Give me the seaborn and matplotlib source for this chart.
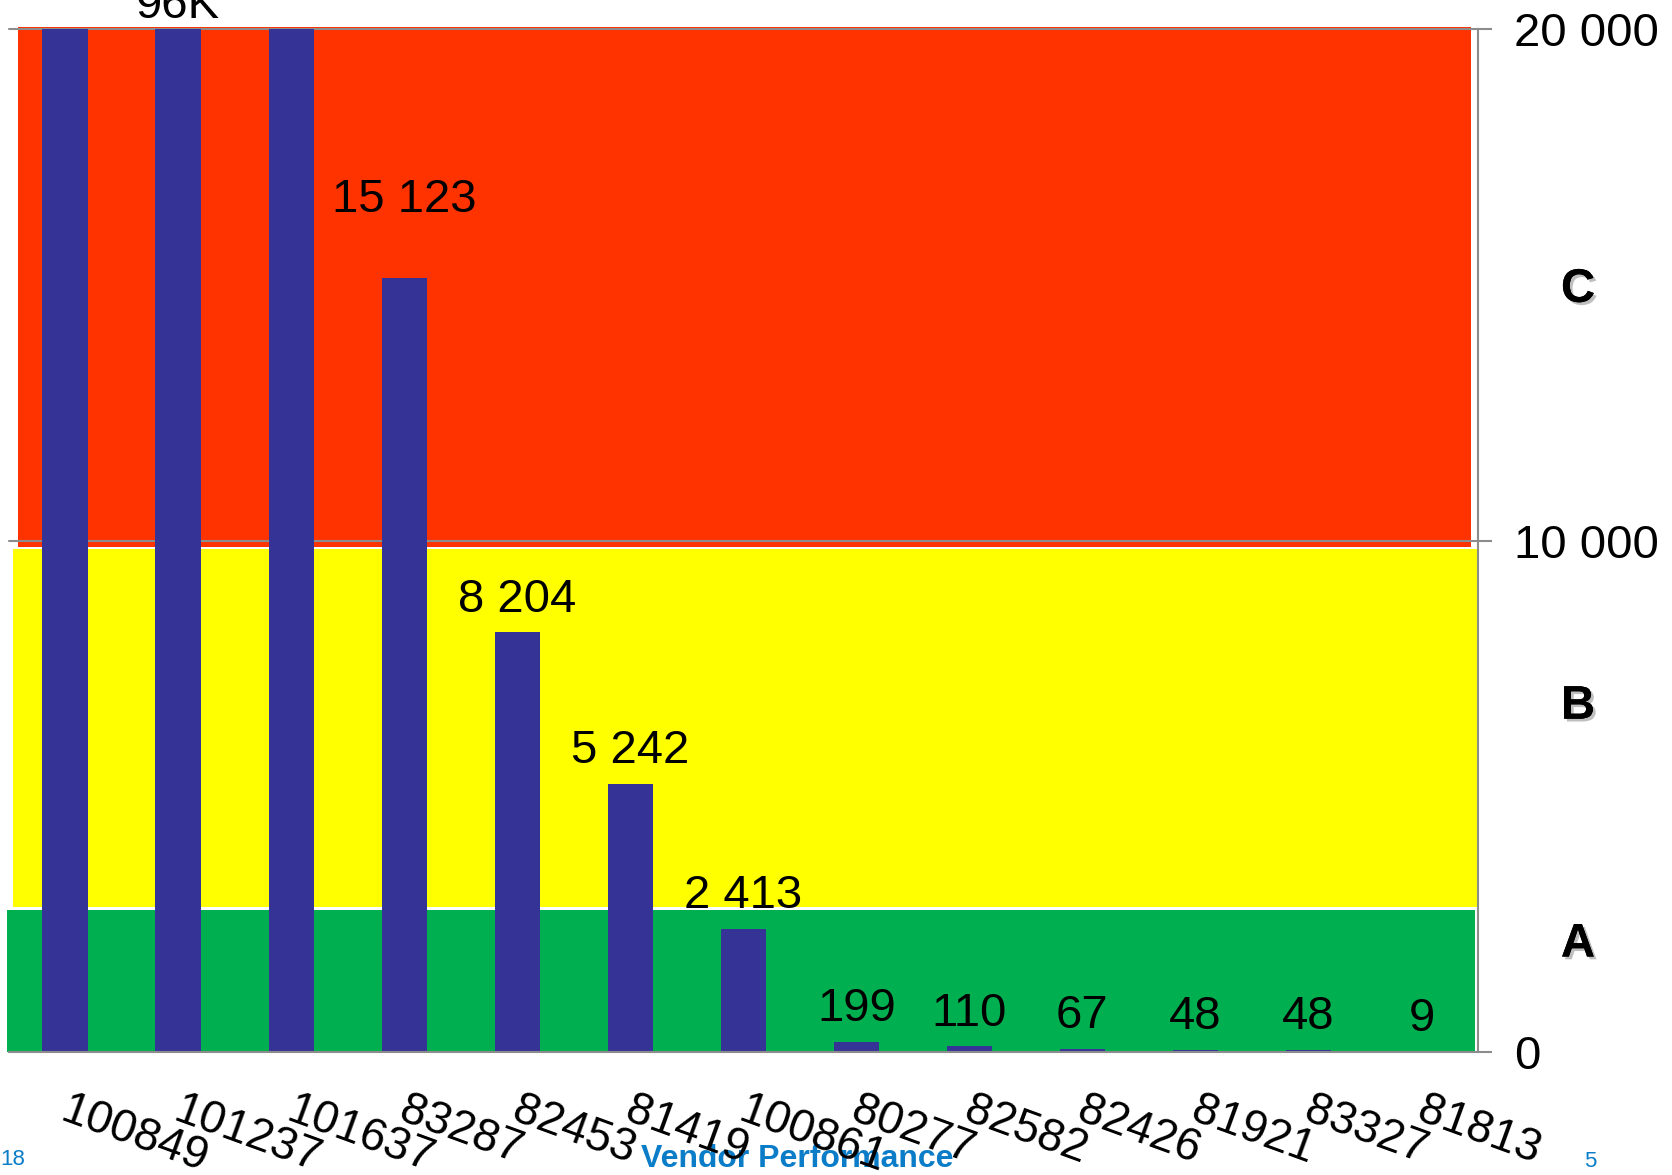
import numpy as np
import matplotlib
matplotlib.use("Agg")
import matplotlib.pyplot as plt
import matplotlib.patheffects as pe
import matplotlib.transforms as mtransforms
from matplotlib.patches import Rectangle
from matplotlib.ticker import FuncFormatter
import seaborn as sns

# vendors in Pareto order, spend per vendor
vendors = ["100849", "101237", "101637", "83287", "82453", "81419", "100861",
           "80277", "82582", "82426", "81921", "83327", "81813"]
spend = [120000, 96000, 40000, 15123, 8204, 5242, 2413, 199, 110, 67, 48, 48, 9]
bar_labels = ["", "96K", "", "15 123", "8 204", "5 242", "2 413",
              "199", "110", "67", "48", "48", "9"]

# ABC zones drawn behind the bars
zone_names = ["A", "B", "C"]
zone_low = [0, 2830, 9870]
zone_high = [2780, 9830, 20040]
zone_colors = ["#00B050", "#FFFF00", "#FF3300"]
zone_label_y = [2100, 6750, 14900]

y_ticks = [0, 10000, 20000]

sns.set_style("white")
plt.rcParams["font.family"] = ["Liberation Sans", "DejaVu Sans"]
plt.rcParams["text.color"] = "black"

grey = "#8c8c8c"
fig = plt.figure(figsize=(16.72, 11.75), dpi=100)
ax = fig.add_axes([0.0051, 0.1047, 0.8789, 0.8706])

sns.barplot(x=vendors, y=spend, color="#363396", saturation=1, width=0.4,
            errorbar=None, linewidth=0, zorder=3, ax=ax)

ax.set_xlim(-0.5, len(vendors) - 0.5)
ax.set_ylim(0, 20000)

# coloured zones (slightly uneven widths, like the hand drawn slide)
lefts = [-0.51, -0.46, -0.415]
rights = [12.47, 12.49, 12.44]
for lo, hi, c, l, r in zip(zone_low, zone_high, zone_colors, lefts, rights):
    ax.add_patch(Rectangle((l, lo), r - l, hi - lo, facecolor=c, lw=0,
                           zorder=1, clip_on=False))

for yv in y_ticks[1:]:
    ax.axhline(yv, color=grey, lw=1.5, zorder=2, clip_on=False)

# y axis on the right
ax.yaxis.tick_right()
ax.set_yticks(y_ticks)
ax.yaxis.set_major_formatter(FuncFormatter(lambda v, p: f"{int(v):,}".replace(",", " ")))
ax.tick_params(axis="y", direction="out", length=10, width=1.5, color=grey,
               labelcolor="black", labelsize=34, pad=16)

# x: ticks between categories, vendor ids rotated below each bar
ax.set_xticks(np.arange(-0.5, len(vendors), 1))
ax.set_xticklabels([])
ax.tick_params(axis="x", which="major", direction="out", length=11, width=1.5, color=grey)
ax.set_xlabel("")
ax.set_ylabel("")
for i, name in enumerate(vendors):
    ax.annotate(name, (i, 0), xytext=(-5, -49), textcoords="offset points",
                rotation=-20, rotation_mode="anchor", ha="left", va="baseline",
                fontsize=33, color="black", annotation_clip=False)

for s in ["left", "top"]:
    ax.spines[s].set_visible(False)
for s in ["right", "bottom"]:
    ax.spines[s].set_color(grey)
    ax.spines[s].set_linewidth(1.5)
    ax.spines[s].set_zorder(4)

# value labels above bars
offsets = {1: 8, 3: 48}
for i, (v, lab) in enumerate(zip(spend, bar_labels)):
    if not lab:
        continue
    ax.annotate(lab, (i, min(v, 20000)), xytext=(0, offsets.get(i, 15)),
                textcoords="offset points", ha="center", va="baseline",
                fontsize=34, color="black", zorder=5, annotation_clip=False)

trans = mtransforms.blended_transform_factory(ax.transAxes, ax.transData)
for name, yv in zip(zone_names, zone_label_y):
    ax.text(1.068, yv, name, transform=trans, ha="center", va="center",
            fontsize=34, fontweight="bold", color="black",
            path_effects=[pe.withSimplePatchShadow(offset=(2, -2), shadow_rgbFace="grey", alpha=0.5),
                          pe.Normal()])

fig.text(0.477, 0.0136, "Vendor Performance", ha="center", va="center",
         fontsize=23, fontweight="bold", color="#0B7DC8", zorder=-1)
fig.text(0.0, 0.0136, "18", ha="left", va="center", fontsize=16, color="#0B7DC8")
fig.text(0.951, 0.0115, "5", ha="center", va="center", fontsize=16, color="#0B7DC8")

fig.savefig("out.png", dpi=100)
